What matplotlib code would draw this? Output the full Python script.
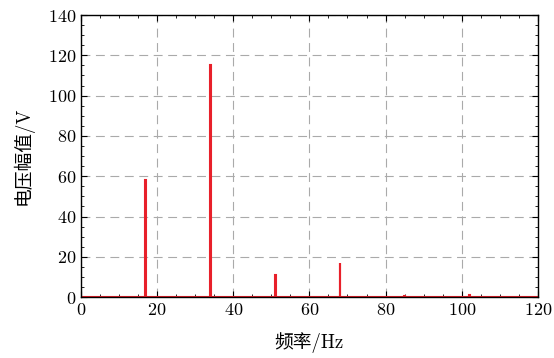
import numpy as np
import matplotlib.pyplot as plt
from matplotlib.ticker import MultipleLocator

plt.rcParams['font.family'] = ['cmr10', 'Noto Sans CJK SC']
plt.rcParams['axes.formatter.use_mathtext'] = True

# spectrum: baseline + harmonic peaks (flat topped bins)
freq = [0, 16.95, 16.95, 17.1, 17.1, 33.9, 33.9, 34.05, 34.05,
        50.95, 50.95, 51.1, 51.1, 67.95, 67.95, 68.1, 68.1,
        84.9, 84.9, 85.1, 85.1, 101.9, 101.9, 102.1, 102.1, 120]
amp = [0.3, 0.3, 58, 58, 0.3, 0.3, 115, 115, 0.3,
       0.3, 11, 11, 0.3, 0.3, 17, 17, 0.3,
       0.3, 0.8, 0.8, 0.3, 0.3, 1.0, 1.0, 0.3, 0.3]

fig, ax = plt.subplots(figsize=(5.54, 3.58), dpi=100)
fig.subplots_adjust(left=0.146, right=0.971, top=0.958, bottom=0.170)

ax.plot(freq, amp, color='#e8202a', lw=1.5, solid_joinstyle='miter')

ax.set_xlim(0, 120)
ax.set_ylim(0, 140)
ax.xaxis.set_major_locator(MultipleLocator(20))
ax.xaxis.set_minor_locator(MultipleLocator(5))
ax.yaxis.set_major_locator(MultipleLocator(20))
ax.yaxis.set_minor_locator(MultipleLocator(5))
ax.tick_params(which='both', direction='in', top=True, right=True, labelsize=13)
ax.tick_params(which='major', length=4)
ax.tick_params(which='minor', length=2)
ax.grid(True, which='major', ls=(0, (8, 5)), color='#aaaaaa', lw=0.8)
for s in ax.spines.values():
    s.set_linewidth(1.0)

ax.set_xlabel('频率/Hz', fontsize=13.5, labelpad=10)
ax.set_ylabel('电压幅值/V', fontsize=13.5, labelpad=10)

fig.savefig('out.png', dpi=100)
